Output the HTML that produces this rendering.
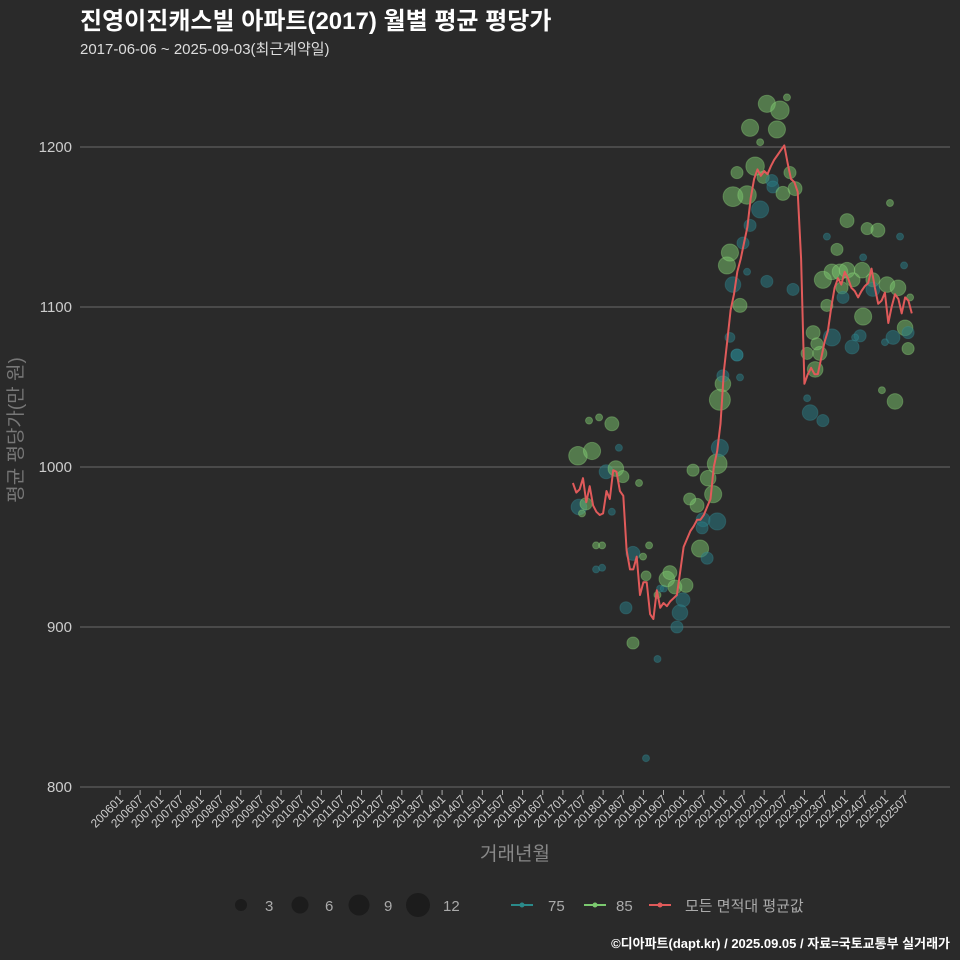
<!DOCTYPE html>
<html><head><meta charset="utf-8"><style>
html,body{margin:0;padding:0;background:#2a2a2a;}
svg{display:block;font-family:"Liberation Sans","Noto Sans CJK KR",sans-serif;}
</style></head><body>
<svg id="chart" width="960" height="960" viewBox="0 0 960 960">
<rect x="0" y="0" width="960" height="960" fill="#2a2a2a"/>
<text x="80" y="29" fill="#ffffff" font-size="24" font-weight="bold">진영이진캐스빌 아파트(2017) 월별 평균 평당가</text>
<text x="80" y="54" fill="#dddddd" font-size="15">2017-06-06 ~ 2025-09-03(최근계약일)</text>
<g id="grid"></g>
<g id="yticks"></g>
<g id="xticks"></g>
<g id="bubbles"></g>
<g id="avgline"></g>
<text x="0" y="0" transform="translate(22,430) rotate(-90)" text-anchor="middle" fill="#777" font-size="19">평균 평당가(만 원)</text>
<text x="515" y="860" text-anchor="middle" fill="#888" font-size="19">거래년월</text>
<g>
<circle cx="241" cy="905" r="6" fill="#1c1c1c"/>
<text x="265" y="911" fill="#aaa" font-size="15">3</text>
<circle cx="300" cy="905" r="8.5" fill="#1c1c1c"/>
<text x="325" y="911" fill="#aaa" font-size="15">6</text>
<circle cx="359" cy="905" r="10.5" fill="#1c1c1c"/>
<text x="384" y="911" fill="#aaa" font-size="15">9</text>
<circle cx="418" cy="905" r="12" fill="#1c1c1c"/>
<text x="443" y="911" fill="#aaa" font-size="15">12</text>
</g>
<g>
<g><line x1="511" y1="905" x2="533" y2="905" stroke="#2a8a8a" stroke-width="2"/><circle cx="522" cy="905" r="2.5" fill="#2a8a8a"/><text x="548" y="911" fill="#aaa" font-size="15">75</text></g>
<g><line x1="584" y1="905" x2="606" y2="905" stroke="#7bc96f" stroke-width="2"/><circle cx="595" cy="905" r="2.5" fill="#7bc96f"/><text x="616" y="911" fill="#aaa" font-size="15">85</text></g>
<g><line x1="649" y1="905" x2="671" y2="905" stroke="#e05a5a" stroke-width="2"/><circle cx="660" cy="905" r="2.5" fill="#e05a5a"/><text x="685" y="911" fill="#aaa" font-size="15">모든 면적대 평균값</text></g>
</g>
<text x="950" y="948" text-anchor="end" fill="#ffffff" font-size="13" font-weight="bold">©디아파트(dapt.kr) / 2025.09.05 / 자료=국토교통부 실거래가</text>
</svg>
<script>
// ---- data ----
const yTicks = [800, 900, 1000, 1100, 1200];
const xTickLabels = [];
for (let yr = 2006; yr <= 2025; yr++) { xTickLabels.push(yr + "01"); xTickLabels.push(yr + "07"); }
const avgStartMonth = 135; // months since 2006-01
const avgValues = [990,984,986,993,978,988,976,972,970,971,985,980,998,997,985,982,948,936,936,944,920,928,928,908,905,923,912,915,913,916,918,920,935,950,955,960,963,967,967,970,975,980,1000,1010,1027,1060,1079,1098,1108,1122,1130,1140,1150,1168,1180,1186,1182,1185,1183,1188,1192,1195,1198,1201,1190,1180,1178,1172,1130,1052,1058,1062,1058,1058,1068,1078,1085,1100,1112,1118,1114,1122,1118,1112,1110,1106,1110,1113,1115,1124,1112,1102,1104,1109,1090,1100,1108,1105,1096,1106,1104,1096];
const bubbleMonths = [136.5,140.7,136.8,138.9,137.7,139.8,142.8,146.6,148.7,144.9,147.8,149.9,154.7,146.6,141.9,143.7,141.9,143.7,152.9,157.7,155.9,156.8,160.2,161.0,162.1,160.2,150.8,152.9,163.0,163.9,165.4,168.7,167.8,166.9,166.0,170.8,175.3,178.0,172.0,169.8,176.8,173.8,178.0,172.9,175.0,173.5,178.8,179.7,178.8,179.7,183.9,184.8,181.8,183.9,184.8,180.9,181.8,182.7,185.7,186.9,187.8,190.8,182.7,186.9,183.9,189.3,191.7,194.3,194.6,197.6,199.7,201.2,187.8,192.8,196.7,195.8,198.8,190.8,192.8,200.6,205.7,209.5,204.8,206.6,204.8,207.2,208.6,207.7,212.2,210.7,209.5,212.2,214.6,216.7,218.5,221.2,215.2,215.5,213.7,216.7,222.7,225.9,210.7,221.5,229.5,232.5,233.7,224.4,224.4,228.6,231.9,235.5,221.5,220.6,219.1,218.2,230.4,228.0,234.0,234.9,234.9,231.0,227.1,646.0/3.355-120/3.355];
const bubbleValues = [1007,1010,975,977,971,1029,1031,1027,1012,997,999,994,990,972,951,951,936,937,946,951,944,932,920,924,924,880,912,890,930,934,925,926,917,909,900,998,993,1002,976,980,983,967,966,949,943,962,1012,1052,1042,1057,1070,1056,1081,1070,1101,1126,1134,1114,1140,1122,1151,1161,1169,1170,1184,1188,1181,1179,1175,1171,1184,1174,1212,1227,1223,1211,1231,1203,1116,1111,1034,1029,1043,1084,1071,1061,1071,1077,1081,1101,1117,1122,1122,1123,1117,1123,1112,1106,1136,1154,1149,1148,1144,1131,1165,1144,1126,1117,1111,1114,1112,1106,1094,1082,1081,1075,1081,1078,1087,1084,1074,1041,1048,818];
const bubbleCounts = [7,6,5,3,1,1,1,4,1,4,5,3,1,1,1,1,1,1,4,1,1,2,1,1,1,1,3,3,5,4,4,4,4,5,3,3,5,8,4,3,6,4,6,6,3,3,6,5,9,3,3,1,2,3,4,6,6,5,3,1,3,6,8,7,3,7,3,3,3,4,3,4,6,6,7,6,1,1,3,3,5,3,1,4,3,5,4,3,6,3,6,5,5,5,4,5,3,3,3,4,3,4,1,1,1,1,1,4,4,5,5,1,6,3,1,4,4,1,5,3,3,5,1,1];
const bubbleTypes = [85,85,75,85,85,85,85,85,75,75,85,85,85,75,85,85,75,75,75,85,85,85,85,75,75,75,75,85,85,85,85,85,75,75,75,85,85,85,85,85,85,75,75,85,75,75,75,85,85,75,75,75,75,75,85,85,85,75,75,75,75,75,85,85,85,85,85,75,75,85,85,85,85,85,85,85,85,85,75,75,75,75,75,85,85,85,85,85,75,85,85,85,85,85,85,85,85,75,85,85,85,85,75,75,85,75,75,85,75,85,85,85,85,75,75,75,75,75,85,75,85,85,85,75];

// ---- scales ----
const NS = "http://www.w3.org/2000/svg";
const xL = 80, xR = 950;
function xScale(m) { return 120 + m * 3.355; }
function yScale(v) { return 787 - (v - 800) * 1.6; }
function mk(tag, attrs, parent) { const e = document.createElementNS(NS, tag); for (const k in attrs) e.setAttribute(k, attrs[k]); parent.appendChild(e); return e; }

const grid = document.getElementById('grid');
const yt = document.getElementById('yticks');
yTicks.forEach(v => {
  const l = mk('line', {x1: xL, x2: xR, y1: yScale(v), y2: yScale(v), stroke: '#6a6a6a', 'stroke-width': 1}, grid);
  
  
  const t = mk('text', {x: 72, y: yScale(v) + 5, 'text-anchor': 'end', fill: '#cccccc', 'font-size': 15}, yt);
  t.textContent = v;
  
  
});

const xt = document.getElementById('xticks');
xTickLabels.forEach((lab, i) => {
  const x = xScale(i * 6);
  const tk = mk('line', {x1: x, x2: x, y1: 790, y2: 795, stroke: '#aaaaaa', 'stroke-width': 1}, xt);
  
  
  const t = mk('text', {x: 0, y: 0, transform: 'translate(' + (x + 4) + ',800) rotate(-45)', 'text-anchor': 'end', fill: '#cccccc', 'font-size': 12}, xt);
  t.textContent = lab;
  
  
});

const bg = document.getElementById('bubbles');
bubbleMonths.forEach((m, i) => {
  const c85 = bubbleTypes[i] === 85;
  const r = 3.5 * Math.sqrt(bubbleCounts[i]);
  const c = mk('circle', {cx: xScale(m), cy: yScale(bubbleValues[i]), r: r,
    fill: c85 ? 'rgba(124,200,110,0.5)' : 'rgba(40,120,130,0.55)',
    stroke: c85 ? 'rgba(150,220,130,0.35)' : 'rgba(60,150,160,0.3)', 'stroke-width': 1}, bg);
  
  
});

const ag = document.getElementById('avgline');
const pts = avgValues.map((v, i) => xScale(avgStartMonth + i).toFixed(1) + ',' + yScale(v).toFixed(1)).join(' ');
const pl = mk('polyline', {points: pts, fill: 'none', stroke: '#e05a5a', 'stroke-width': 2, 'stroke-linejoin': 'round'}, ag);


</script>
</body></html>
